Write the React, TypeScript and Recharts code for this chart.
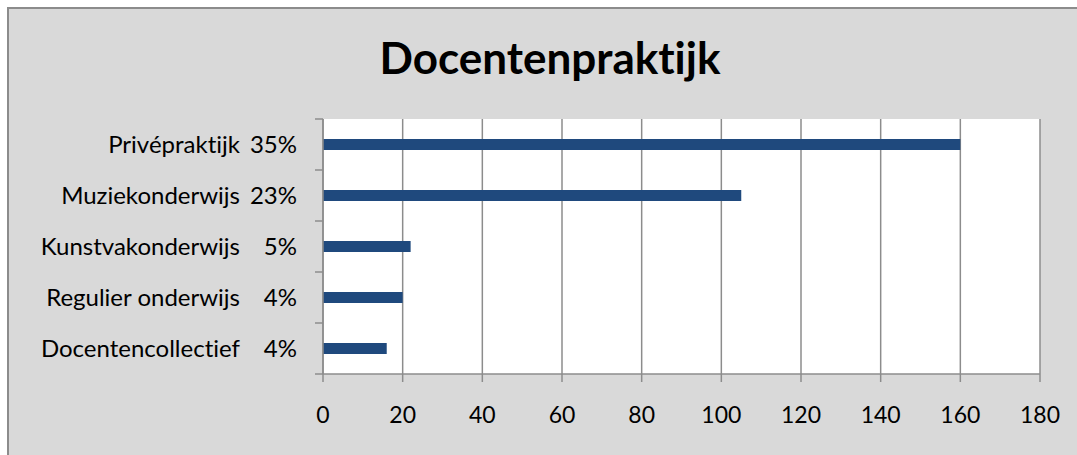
import { BarChart, Bar, XAxis, YAxis, CartesianGrid } from "recharts";

// Docentenpraktijk: number of responses per type of teaching practice
const categories = [
  "Privépraktijk",
  "Muziekonderwijs",
  "Kunstvakonderwijs",
  "Regulier onderwijs",
  "Docentencollectief",
];
const shares = ["35%", "23%", "5%", "4%", "4%"];
const counts = [160, 105, 22, 20, 16];
const xTicks = [0, 20, 40, 60, 80, 100, 120, 140, 160, 180];

const data = categories.map((name, i) => ({
  name,
  share: shares[i],
  count: counts[i],
}));

const CHART_W = 1068;
const CHART_H = 446;
const MARGIN = { top: 110, right: 37, bottom: 0, left: 0 };
const Y_W = 314;
const X_H = 81;
const PLOT_H = CHART_H - MARGIN.top - MARGIN.bottom - X_H;
const HALF_BAND = PLOT_H / categories.length / 2;
const GRID = "#8c8c8c";
const FONT = "Lato, 'Noto Sans', sans-serif";

function CategoryTick(props: any) {
  const { y, payload } = props;
  const idx = categories.indexOf(payload.value);
  const left = Y_W;
  return (
    <g>
      <line x1={left - 8} x2={left} y1={y - HALF_BAND} y2={y - HALF_BAND} stroke={GRID} strokeWidth={1.5} />
      {idx === categories.length - 1 && (
        <line x1={left - 8} x2={left} y1={y + HALF_BAND} y2={y + HALF_BAND} stroke={GRID} strokeWidth={1.5} />
      )}
      <text x={left - 83} y={y} dy="0.36em" textAnchor="end" fill="#000" fontSize={24} fontFamily={FONT}>
        {payload.value}
      </text>
      <text x={left - 26} y={y} dy="0.36em" textAnchor="end" fill="#000" fontSize={24} fontFamily={FONT}>
        {shares[idx]}
      </text>
    </g>
  );
}

export default function App() {
  return (
    <div
      style={{
        position: "fixed",
        left: 7,
        top: 7,
        width: 1070,
        height: 448,
        background: "#d9d9d9",
        borderLeft: `2px solid ${GRID}`,
        borderTop: `2px solid ${GRID}`,
        boxSizing: "border-box",
        fontFamily: FONT,
        fontVariantLigatures: "none",
      }}
    >
      <div
        style={{
          position: "absolute",
          left: 0,
          width: 1082,
          top: 23,
          lineHeight: "50px",
          textAlign: "center",
          fontSize: 44,
          fontWeight: 700,
          color: "#000",
        }}
      >
        Docentenpraktijk
      </div>
      <BarChart
        width={CHART_W}
        height={CHART_H}
        data={data}
        layout="vertical"
        margin={MARGIN}
        barSize={11}
      >
        <CartesianGrid horizontal={false} stroke={GRID} strokeWidth={1.5} fill="#ffffff" />
        <XAxis
          type="number"
          dataKey="count"
          domain={[0, 180]}
          ticks={xTicks}
          interval={0}
          height={X_H}
          stroke={GRID}
          strokeWidth={1.5}
          tickSize={8}
          tickMargin={25}
          tick={{ fill: "#000", fontSize: 23, fontFamily: FONT }}
        />
        <YAxis
          type="category"
          dataKey="name"
          width={Y_W}
          stroke={GRID}
          strokeWidth={1.5}
          tickLine={false}
          interval={0}
          tick={<CategoryTick />}
        />
        <Bar dataKey="count" fill="#1f497d" isAnimationActive={false} />
      </BarChart>
    </div>
  );
}
